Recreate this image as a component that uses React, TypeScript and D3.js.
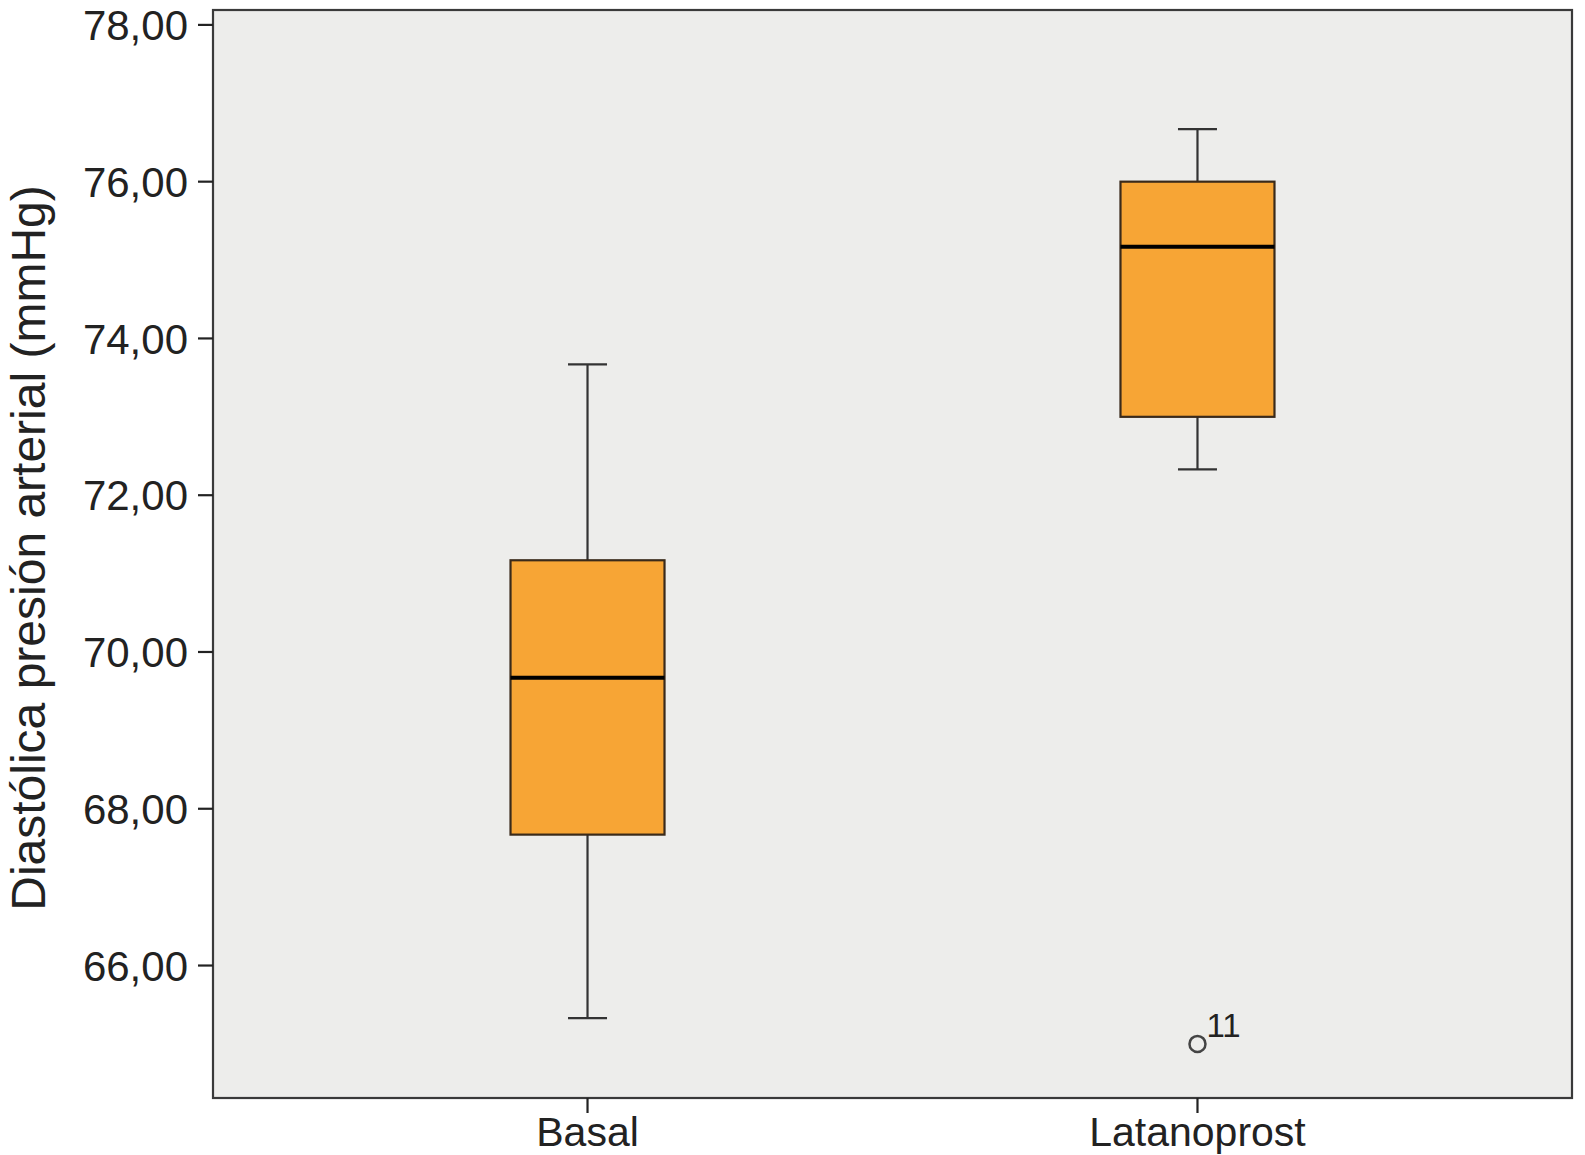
import React from "react";
import * as d3 from "d3";

const categories = ["Basal", "Latanoprost"];
const whiskerLow = [65.33, 72.33];
const q1 = [67.67, 73.0];
const median = [69.67, 75.17];
const q3 = [71.17, 76.0];
const whiskerHigh = [73.67, 76.67];
const outliers = [{ cat: "Latanoprost", value: 65.0, label: "11" }];
const yTicks = [66, 68, 70, 72, 74, 76, 78];
const yTitle = "Diastólica presión arterial (mmHg)";

const W = 1585;
const H = 1155;
const left = 213;
const right = 1572;
const top = 10;
const bottom = 1098;
const font = "'Liberation Sans', Arial, sans-serif";

export default function App() {
  const y = d3.scaleLinear().domain([64.31, 78.19]).range([bottom, top]);
  const x = d3.scalePoint<string>().domain(categories).range([left, right]).padding(0.614);
  const boxW = 154;
  const capW = 39;
  const fmt = (v: number) => v.toFixed(2).replace(".", ",");
  return (
    <svg width={W} height={H} style={{ position: "absolute", left: 0, top: 0, background: "#fff" }}>
      <rect x={left} y={top} width={right - left} height={bottom - top} fill="#EDEDEB" stroke="#3a3a3a" strokeWidth={2.2} />
      {yTicks.map((t) => (
        <g key={t}>
          <line x1={left - 15} x2={left} y1={y(t)} y2={y(t)} stroke="#222" strokeWidth={2.2} />
          <text x={188} y={y(t)} dy="0.36em" textAnchor="end" fontFamily={font} fontSize={42} fill="#222">
            {fmt(t)}
          </text>
        </g>
      ))}
      {categories.map((c) => (
        <g key={c}>
          <line x1={x(c)} x2={x(c)} y1={bottom} y2={bottom + 15} stroke="#222" strokeWidth={2.2} />
          <text x={x(c)} y={1146} textAnchor="middle" fontFamily={font} fontSize={41} fill="#222">
            {c}
          </text>
        </g>
      ))}
      {categories.map((c, i) => {
        const cx = x(c) as number;
        return (
          <g key={"box" + c}>
            <line x1={cx} x2={cx} y1={y(whiskerHigh[i])} y2={y(q3[i])} stroke="#333" strokeWidth={2.2} />
            <line x1={cx} x2={cx} y1={y(q1[i])} y2={y(whiskerLow[i])} stroke="#333" strokeWidth={2.2} />
            <line x1={cx - capW / 2} x2={cx + capW / 2} y1={y(whiskerHigh[i])} y2={y(whiskerHigh[i])} stroke="#333" strokeWidth={2.2} />
            <line x1={cx - capW / 2} x2={cx + capW / 2} y1={y(whiskerLow[i])} y2={y(whiskerLow[i])} stroke="#333" strokeWidth={2.2} />
            <rect x={cx - boxW / 2} y={y(q3[i])} width={boxW} height={y(q1[i]) - y(q3[i])} fill="#F7A535" stroke="#3a2a1a" strokeWidth={2.2} />
            <line x1={cx - boxW / 2} x2={cx + boxW / 2} y1={y(median[i])} y2={y(median[i])} stroke="#000" strokeWidth={4} />
          </g>
        );
      })}
      {outliers.map((o) => (
        <g key={o.label}>
          <circle cx={x(o.cat)} cy={y(o.value)} r={8} fill="none" stroke="#444" strokeWidth={2.5} />
          <text x={(x(o.cat) as number) + 9} y={1037} fontFamily={font} fontSize={33} fill="#222">
            {o.label}
          </text>
        </g>
      ))}
      <text
        transform={`translate(45, ${(top + bottom) / 2 - 6}) rotate(-90)`}
        textAnchor="middle"
        fontFamily={font}
        fontSize={48}
        fill="#222"
      >
        {yTitle}
      </text>
    </svg>
  );
}
